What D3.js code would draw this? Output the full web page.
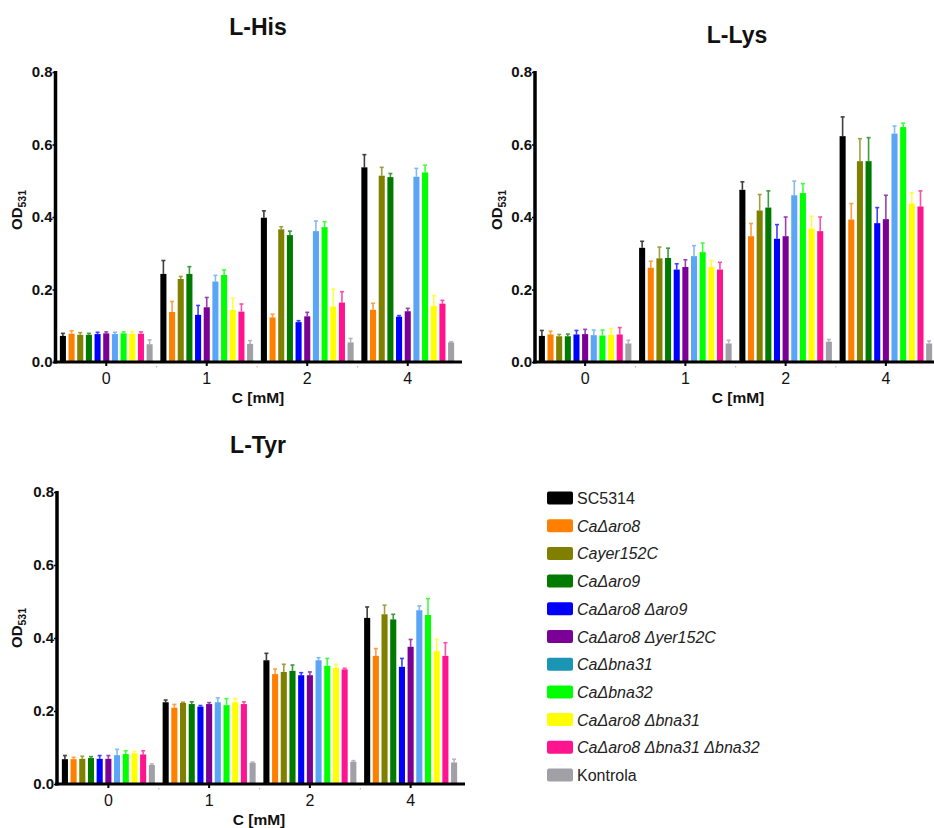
<!DOCTYPE html>
<html><head><meta charset="utf-8">
<script src="https://cdn.jsdelivr.net/npm/d3@7"></script>
<style>
html,body{margin:0;padding:0;background:#fff;}
svg{display:block;font-family:"Liberation Sans",Arial,sans-serif;}
</style></head>
<body>
<svg id="chart" width="934" height="828"></svg>
<script>
// ---------- data ----------
const concentrations = ["0","1","2","4"];
const strains = ["SC5314","CaΔaro8","Cayer152C","CaΔaro9","CaΔaro8 Δaro9","CaΔaro8 Δyer152C","CaΔbna31","CaΔbna32","CaΔaro8 Δbna31","CaΔaro8 Δbna31 Δbna32","Kontrola"];
const italicStrain = [false,true,true,true,true,true,true,true,true,true,false];
const barColors = ["#000000","#ff7f00","#808000","#007a00","#0000ff","#7a0096","#5aa5f5","#00ff00","#ffff00","#ff1490","#a0a0a6"];
const legendColors = ["#000000","#ff7f00","#808000","#007a00","#0000ff","#7a0096","#1a96b4","#00ff00","#ffff00","#ff1490","#a0a0a6"];
const yTicks = [0,0.2,0.4,0.6,0.8];

// mean OD531, one row per concentration, one entry per strain
const hisMean = [
  [0.072,0.078,0.075,0.075,0.077,0.079,0.077,0.079,0.078,0.078,0.049],
  [0.243,0.138,0.229,0.243,0.130,0.151,0.222,0.240,0.144,0.139,0.050],
  [0.398,0.123,0.366,0.350,0.110,0.126,0.361,0.372,0.153,0.164,0.054],
  [0.537,0.144,0.514,0.510,0.125,0.140,0.511,0.523,0.155,0.161,0.054]
];
const hisErr = [
  [0.007,0.008,0.006,0.004,0.005,0.004,0.005,0.004,0.006,0.005,0.012],
  [0.037,0.029,0.007,0.020,0.026,0.027,0.017,0.014,0.032,0.021,0.009],
  [0.019,0.009,0.007,0.011,0.004,0.011,0.028,0.015,0.048,0.030,0.011],
  [0.035,0.018,0.023,0.010,0.003,0.008,0.023,0.020,0.028,0.009,0.002]
];
const lysMean = [
  [0.072,0.076,0.071,0.071,0.076,0.077,0.074,0.073,0.075,0.076,0.051],
  [0.315,0.260,0.286,0.287,0.255,0.262,0.292,0.303,0.262,0.255,0.051],
  [0.475,0.347,0.418,0.426,0.340,0.347,0.460,0.466,0.368,0.361,0.056],
  [0.623,0.393,0.554,0.554,0.383,0.394,0.630,0.648,0.437,0.429,0.051]
];
const lysErr = [
  [0.015,0.009,0.005,0.006,0.011,0.013,0.014,0.015,0.017,0.019,0.009],
  [0.018,0.018,0.031,0.027,0.016,0.020,0.029,0.025,0.018,0.020,0.009],
  [0.022,0.035,0.044,0.046,0.039,0.053,0.039,0.026,0.034,0.039,0.006],
  [0.053,0.044,0.062,0.065,0.043,0.066,0.021,0.011,0.030,0.043,0.007]
];
const tyrMean = [
  [0.068,0.068,0.069,0.071,0.069,0.069,0.079,0.082,0.084,0.081,0.052],
  [0.224,0.209,0.222,0.219,0.212,0.219,0.224,0.216,0.224,0.219,0.058],
  [0.339,0.301,0.307,0.310,0.298,0.298,0.339,0.324,0.318,0.314,0.061],
  [0.455,0.351,0.465,0.451,0.321,0.376,0.476,0.463,0.364,0.351,0.059]
];
const tyrErr = [
  [0.010,0.005,0.007,0.004,0.009,0.009,0.016,0.009,0.005,0.010,0.003],
  [0.006,0.009,0.002,0.006,0.003,0.004,0.012,0.018,0.010,0.006,0.002],
  [0.019,0.014,0.021,0.016,0.007,0.009,0.007,0.020,0.010,0.003,0.003],
  [0.030,0.020,0.025,0.014,0.023,0.020,0.012,0.045,0.032,0.036,0.009]
];

// ---------- layout ----------
const panels = [
  {title:"L-His", mean:hisMean, err:hisErr, axisX:55.5, x0:56, x1:458, xEnd:462, yTop:72, yBot:362, titleX:258, titleY:35, xlabX:258, xlabY:403, odX:22, odY:210},
  {title:"L-Lys", mean:lysMean, err:lysErr, axisX:535, x0:535, x1:936, xEnd:934, yTop:72, yBot:362, titleX:737, titleY:43, xlabX:738, xlabY:403, odX:502, odY:210},
  {title:"L-Tyr", mean:tyrMean, err:tyrErr, axisX:57, x0:58, x1:461, xEnd:465, yTop:492, yBot:784, titleX:258, titleY:453, xlabX:259, xlabY:825, odX:22, odY:628}
];

const svg = d3.select("#chart");

panels.forEach(p => {
  const g = svg.append("g");
  const y = d3.scaleLinear().domain([0,0.8]).range([p.yBot,p.yTop]);
  const x = d3.scaleBand().domain(concentrations).range([p.x0,p.x1]).paddingInner(0).paddingOuter(0);
  const xs = d3.scaleBand().domain(strains).range([0,x.bandwidth()]).paddingInner(0.3).paddingOuter(0.445);

  // bars
  concentrations.forEach((c,ci) => {
    const rows = strains.map((s,si) => ({s, si, v:p.mean[ci][si], e:p.err[ci][si]}));
    const gg = g.append("g").attr("transform",`translate(${x(c)},0)`);
    gg.selectAll("rect.bar").data(rows).join("rect").attr("class","bar")
      .attr("x",d=>xs(d.s)).attr("width",xs.bandwidth())
      .attr("y",d=>y(d.v)).attr("height",d=>y(0)-y(d.v))
      .attr("fill",d=>barColors[d.si]);
    const eb = gg.selectAll("g.eb").data(rows).join("g").attr("class","eb")
      .attr("stroke",d=>barColors[d.si]).attr("stroke-width",1.6).attr("opacity",0.75);
    eb.append("line")
      .attr("x1",d=>xs(d.s)+xs.bandwidth()/2).attr("x2",d=>xs(d.s)+xs.bandwidth()/2)
      .attr("y1",d=>y(d.v)).attr("y2",d=>y(d.v+d.e));
    eb.append("line")
      .attr("x1",d=>xs(d.s)+xs.bandwidth()/2-2).attr("x2",d=>xs(d.s)+xs.bandwidth()/2+2)
      .attr("y1",d=>y(d.v+d.e)).attr("y2",d=>y(d.v+d.e));
  });

  // band boundary marks
  g.selectAll("rect.sep").data(concentrations.slice(1)).join("rect").attr("class","sep")
    .attr("x",c=>x(c)-0.5).attr("y",p.yBot+4).attr("width",1.2).attr("height",1.5).attr("fill","#bbb");

  // y axis
  const ya = g.append("g").attr("transform",`translate(${p.axisX},0)`)
    .call(d3.axisLeft(y).tickValues(yTicks).tickFormat(d3.format(".1f")).tickSizeInner(3).tickSizeOuter(0).tickPadding(0));
  ya.select(".domain").remove();
  ya.selectAll(".tick line").attr("stroke","#000").attr("stroke-width",1.5);
  ya.selectAll("text").attr("font-size",15).attr("font-weight","bold").attr("fill","#111")
    .attr("font-family","'Liberation Sans',Arial,sans-serif");
  g.append("line").attr("x1",p.axisX).attr("x2",p.axisX).attr("y1",p.yBot+1.5).attr("y2",p.yTop-1)
    .attr("stroke","#000").attr("stroke-width",3.5);

  // x axis
  const xa = g.append("g").attr("transform",`translate(0,${p.yBot})`)
    .call(d3.axisBottom(x).tickSizeInner(4).tickSizeOuter(0).tickPadding(7));
  xa.select(".domain").remove();
  xa.selectAll(".tick line").attr("stroke","#000").attr("stroke-width",2);
  xa.selectAll("text").attr("font-size",16).attr("fill","#111")
    .attr("font-family","'Liberation Sans',Arial,sans-serif");
  g.append("line").attr("x1",p.axisX-2).attr("x2",p.xEnd).attr("y1",p.yBot).attr("y2",p.yBot)
    .attr("stroke","#000").attr("stroke-width",3);

  // labels
  g.append("text").attr("x",p.titleX).attr("y",p.titleY).attr("text-anchor","middle")
    .attr("font-size",23).attr("font-weight","bold").attr("fill","#111").text(p.title);
  g.append("text").attr("x",p.xlabX).attr("y",p.xlabY).attr("text-anchor","middle")
    .attr("font-size",15.5).attr("font-weight","bold").attr("fill","#111").text("C [mM]");
  const od = g.append("text").attr("transform",`translate(${p.odX},${p.odY}) rotate(-90)`)
    .attr("text-anchor","middle").attr("font-size",15).attr("font-weight","bold").attr("fill","#111");
  od.append("tspan").text("OD");
  od.append("tspan").attr("font-size",10.5).attr("dy",3.5).text("531");
});

// legend
const leg = svg.append("g");
const ly = d3.scalePoint().domain(strains).range([498,775]);
const items = leg.selectAll("g").data(strains).join("g")
  .attr("transform",s=>`translate(547,${ly(s)})`);
items.append("rect").attr("x",0).attr("y",-6.5).attr("width",26).attr("height",13).attr("rx",2)
  .attr("fill",(s,i)=>legendColors[i]);
items.append("text").attr("x",30).attr("y",6).attr("font-size",16).attr("fill","#222")
  .attr("font-style",(s,i)=>italicStrain[i]?"italic":"normal").text(s=>s);
</script>
</body></html>
